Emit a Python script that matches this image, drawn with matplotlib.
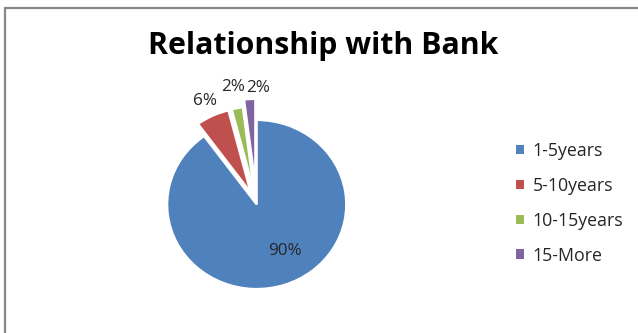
import numpy as np
import matplotlib
matplotlib.use("Agg")
import matplotlib.pyplot as plt
from matplotlib.patches import Rectangle

categories = ["1-5years", "5-10years", "10-15years", "15-More"]
values = [90, 6, 2, 2]
pct_labels = ["90%", "6%", "2%", "2%"]
colors = ["#4F81BD", "#C0504D", "#9BBB59", "#8064A2"]
explode = [0, 0.16, 0.16, 0.25]
title = "Relationship with Bank"

W, H = 638, 333
fig = plt.figure(figsize=(W / 100, H / 100), dpi=100)
fig.patch.set_facecolor("white")
plt.rcParams['font.family'] = ['Open Sans', 'DejaVu Sans']

# chart border (gray frame)
fig.patches.append(Rectangle((5 / W, -0.1), 1.2, (H - 8) / H + 0.1, transform=fig.transFigure,
                             fill=False, edgecolor="#878787", linewidth=1.6))

# pie axes: centre at (256.7, 204.5) px from top, radii 89.5 x 84.5 px
cx, cy = 256.7, H - 204.5
rx, ry = 89.5, 84.5
span = 2.0
ax = fig.add_axes([(cx - span * rx) / W, (cy - span * ry) / H, 2 * span * rx / W, 2 * span * ry / H])
wedges, _ = ax.pie(values, colors=colors, explode=explode, startangle=90, counterclock=False,
                   wedgeprops=dict(edgecolor="white", linewidth=1.6))
ax.set_aspect("auto")
ax.set_xlim(-span, span)
ax.set_ylim(-span, span)
ax.axis("off")

# percentage labels
total = sum(values)
angle = 90.0
label_r = [0.63, 1.20, 1.25, 1.13]
label_shift = [12, 0, 0, -5]
for i, v in enumerate(values):
    a1 = angle - 360 * v / total
    mid = np.deg2rad((angle + a1) / 2 + label_shift[i])
    ex = np.deg2rad((angle + a1) / 2)
    x = explode[i] * np.cos(ex) + label_r[i] * np.cos(mid)
    y = explode[i] * np.sin(ex) + label_r[i] * np.sin(mid)
    ax.text(x, y, pct_labels[i], ha="center", va="center", fontsize=12.3, color="#262626")
    angle = a1

fig.text(323 / W, 1 - 46 / H, title, ha="center", va="center", fontsize=21.8,
         fontweight="bold", color="black")

leg = fig.legend(wedges, categories, loc="upper left", bbox_to_anchor=(507 / W, 1 - 133 / H),
                 frameon=False, fontsize=12.8, handlelength=0.45, handleheight=0.45,
                 handletextpad=0.5, labelspacing=0.95, borderpad=0)
for t in leg.get_texts():
    t.set_color("#262626")
for h in leg.legend_handles:
    h.set_edgecolor("none")

fig.savefig("out.png", dpi=100)
